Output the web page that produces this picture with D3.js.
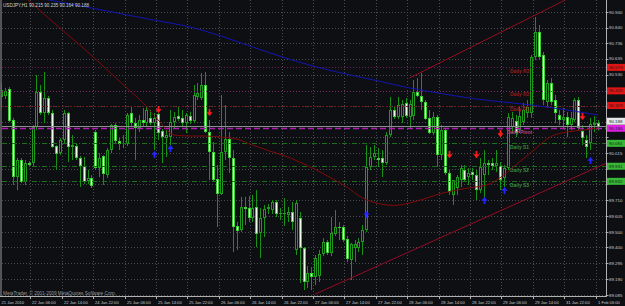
<!DOCTYPE html>
<html lang="en">

<head>
    <title>USDJPY,H1</title>
    <meta charset="UTF-8">
    <script src="https://cdn.jsdelivr.net/npm/d3@7"></script>
    <style>
        html,
        body {
            margin: 0;
            padding: 0;
            background: #0d0f12;
        }

        svg {
            display: block;
        }

        text {
            font-family: "Liberation Sans", Arial, sans-serif;
        }
    </style>
</head>

<body>
    <script>
        // chart size
        var width = 625,
            height = 306,
            plotRight = 606.5,
            plotBottom = 296.5;

        // hourly bars, 21 Jan 22:00 .. 1 Feb 06:00
        var opens = [90.385, 90.392, 90.437, 90.234, 89.860, 89.972, 89.828, 89.952, 89.952, 90.188,
            90.418, 90.280, 90.378, 90.280, 90.063, 90.017, 90.103, 90.280, 90.057, 90.063,
            89.985, 89.932, 89.834, 89.854, 90.155, 89.919, 89.998, 89.873, 90.037, 90.201,
            90.096, 90.077, 90.077, 90.280, 90.214, 90.182, 90.234, 90.214, 90.248, 90.214,
            90.274, 90.162, 90.116, 90.122, 90.221, 90.260, 90.248, 90.214, 90.260, 90.227,
            90.385, 90.378, 90.463, 90.155, 90.024, 89.847, 89.749, 90.024, 90.109, 89.985,
            89.539, 89.513, 89.664, 89.657, 89.592, 89.664, 89.493, 89.592, 89.651, 89.644,
            89.697, 89.618, 89.618, 89.611, 89.631, 89.382, 89.592, 89.395, 89.172, 89.231,
            89.205, 89.211, 89.356, 89.434, 89.362, 89.487, 89.533, 89.533, 89.454, 89.316,
            89.395, 89.395, 89.434, 89.513, 89.926, 89.991, 89.985, 89.985, 89.952, 90.135,
            90.300, 90.254, 90.254, 90.346, 90.254, 90.260, 90.418, 90.392, 90.352, 90.248,
            90.149, 90.254, 90.004, 90.168, 89.887, 89.743, 89.788, 89.841, 89.906, 89.860,
            89.893, 89.873, 89.775, 89.873, 89.952, 89.952, 89.932, 89.932, 89.854, 89.919,
            90.188, 90.227, 90.168, 90.221, 90.280, 90.280, 90.647, 90.811, 90.660, 90.352,
            90.476, 90.365, 90.267, 90.234, 90.254, 90.201, 90.234, 90.365, 90.162, 90.103,
            90.083, 90.201, 90.215
        ];
        var highs = [90.476, 90.444, 90.450, 90.248, 89.985, 89.985, 89.972, 89.965, 90.201, 90.529,
            90.463, 90.549, 90.392, 90.300, 90.070, 90.116, 90.300, 90.287, 90.135, 90.077,
            89.998, 89.991, 89.906, 89.873, 90.168, 90.017, 90.004, 90.050, 90.208, 90.214,
            90.116, 90.135, 90.280, 90.319, 90.248, 90.267, 90.313, 90.319, 90.300, 90.280,
            90.280, 90.175, 90.168, 90.300, 90.287, 90.319, 90.300, 90.280, 90.287, 90.463,
            90.476, 90.542, 90.549, 90.234, 90.090, 89.939, 90.398, 90.332, 90.155, 90.037,
            89.565, 89.730, 89.730, 89.736, 89.743, 89.775, 89.657, 89.677, 89.684, 89.710,
            89.710, 89.657, 89.723, 89.664, 89.697, 89.710, 89.631, 89.401, 89.277, 89.270,
            89.349, 89.382, 89.460, 89.447, 89.598, 89.644, 89.565, 89.546, 89.474, 89.428,
            89.447, 89.460, 89.546, 90.070, 90.057, 90.070, 90.050, 90.037, 90.155, 90.385,
            90.326, 90.385, 90.365, 90.378, 90.365, 90.496, 90.509, 90.542, 90.365, 90.300,
            90.287, 90.267, 90.201, 90.182, 89.906, 89.841, 89.873, 89.939, 89.939, 89.919,
            89.919, 89.906, 89.985, 90.037, 89.972, 89.985, 90.037, 89.959, 89.939, 90.280,
            90.287, 90.267, 90.319, 90.346, 90.365, 90.660, 90.909, 90.857, 90.680, 90.496,
            90.509, 90.398, 90.300, 90.313, 90.287, 90.287, 90.378, 90.385, 90.201, 90.135,
            90.248, 90.260, 90.235
        ];
        var lows = [90.319, 90.372, 90.221, 89.808, 89.775, 89.821, 89.808, 89.932, 89.926, 90.168,
            90.267, 90.214, 90.267, 90.050, 89.906, 90.004, 90.083, 89.959, 89.972, 89.972,
            89.795, 89.815, 89.815, 89.788, 89.906, 89.860, 89.808, 89.854, 90.017, 90.083,
            90.037, 90.050, 90.063, 90.195, 89.972, 90.155, 90.188, 90.188, 90.201, 90.037,
            90.103, 89.952, 89.991, 90.070, 90.182, 90.227, 90.195, 90.149, 90.208, 90.214,
            90.365, 90.365, 90.149, 89.841, 89.834, 89.533, 89.743, 89.972, 89.887, 89.369,
            89.382, 89.500, 89.546, 89.565, 89.565, 89.401, 89.329, 89.467, 89.618, 89.618,
            89.598, 89.579, 89.539, 89.565, 89.513, 89.349, 89.165, 89.120, 89.133, 89.120,
            89.152, 89.172, 89.342, 89.349, 89.342, 89.474, 89.447, 89.434, 89.303, 89.185,
            89.303, 89.369, 89.349, 89.500, 89.906, 89.972, 89.926, 89.860, 89.939, 90.122,
            90.241, 90.241, 90.214, 90.248, 90.175, 90.234, 90.385, 90.300, 90.234, 90.142,
            90.135, 89.926, 89.972, 89.873, 89.743, 89.677, 89.743, 89.795, 89.828, 89.808,
            89.841, 89.710, 89.755, 89.723, 89.873, 89.906, 89.893, 89.775, 89.795, 89.906,
            90.149, 90.122, 90.149, 90.201, 90.248, 90.248, 90.627, 90.627, 90.332, 90.313,
            90.332, 90.214, 90.201, 90.182, 90.122, 90.168, 90.221, 90.168, 90.070, 89.985,
            90.037, 90.155, 90.164
        ];
        var closes = [90.431, 90.424, 90.227, 89.860, 89.972, 89.828, 89.952, 89.939, 90.188, 90.418,
            90.280, 90.378, 90.280, 90.057, 90.011, 90.103, 90.280, 90.057, 90.070, 89.985,
            89.932, 89.828, 89.854, 89.802, 89.919, 89.985, 89.880, 90.037, 90.201, 90.096,
            90.077, 90.083, 90.267, 90.214, 90.182, 90.234, 90.214, 90.300, 90.214, 90.248,
            90.149, 90.122, 90.135, 90.221, 90.254, 90.241, 90.214, 90.267, 90.227, 90.398,
            90.411, 90.463, 90.155, 90.024, 89.841, 89.749, 90.024, 90.109, 89.985, 89.533,
            89.506, 89.664, 89.651, 89.592, 89.657, 89.487, 89.592, 89.651, 89.664, 89.697,
            89.618, 89.625, 89.625, 89.631, 89.565, 89.690, 89.395, 89.172, 89.231, 89.205,
            89.329, 89.356, 89.434, 89.362, 89.493, 89.533, 89.526, 89.447, 89.323, 89.421,
            89.421, 89.434, 89.513, 89.926, 89.991, 90.017, 89.972, 89.952, 90.135, 90.300,
            90.254, 90.332, 90.339, 90.260, 90.339, 90.418, 90.392, 90.352, 90.241, 90.149,
            90.254, 90.004, 90.168, 89.887, 89.762, 89.841, 89.860, 89.919, 89.841, 89.887,
            89.873, 89.775, 89.926, 89.952, 89.939, 89.932, 89.952, 89.841, 89.919, 90.254,
            90.248, 90.149, 90.260, 90.300, 90.319, 90.647, 90.811, 90.647, 90.365, 90.476,
            90.352, 90.280, 90.234, 90.254, 90.201, 90.248, 90.365, 90.182, 90.116, 90.057,
            90.208, 90.214, 90.188
        ];

        // moving averages, one value every maBlueStep / maRedStep bars
        var maBlueStep = 8;
        var maBlue = [91.082, 91.042, 91.002, 90.963, 90.923, 90.884, 90.844, 90.784, 90.713, 90.644,
            90.584, 90.534, 90.490, 90.444, 90.408, 90.375, 90.352, 90.329, 90.300, 90.267
        ];
        var maRedStep = 4;
        var maRed = [91.171, 91.086, 90.994, 90.903, 90.814, 90.726, 90.634, 90.539, 90.444, 90.349,
            90.234, 90.136, 90.129, 90.129, 90.123, 90.109, 90.070, 90.034, 90.001, 89.959,
            89.910, 89.854, 89.795, 89.723, 89.687, 89.674, 89.690, 89.719, 89.752, 89.775,
            89.792, 89.811, 89.873, 89.959, 90.044, 90.126, 90.155, 90.168, 90.182
        ];

        // trend channel anchors [bar, price]
        var channelLow = [[80, 89.093], [152, 89.927]];
        var channelHigh = [[104, 90.509], [136, 90.922]];

        // fractal arrows [bar, price]
        var arrowsDown = [[40, 90.300], [53, 90.280], [114, 90.004], [121, 90.004], [127, 90.142], [148, 90.254]];
        var arrowsUp = [[39, 90.011], [43, 90.050], [93, 89.618], [123, 89.710], [128, 89.775], [150, 89.972]];

        // daily pivot levels
        var levelNames = ['Daily R3', 'Daily R2', 'Daily R1', 'Daily Pivot', 'Daily S1', 'Daily S2', 'Daily S3'];
        var levelValues = [90.579, 90.425, 90.329, 90.180, 90.081, 89.931, 89.832];

        // axis labels
        var timeLabels = ['21 Jan 2010', '22 Jan 06:00', '22 Jan 14:00', '24 Jan 22:00', '25 Jan 06:00',
            '25 Jan 14:00', '25 Jan 22:00', '26 Jan 06:00', '26 Jan 14:00', '26 Jan 22:00',
            '27 Jan 06:00', '27 Jan 14:00', '27 Jan 22:00', '28 Jan 06:00', '28 Jan 14:00',
            '28 Jan 22:00', '29 Jan 06:00', '29 Jan 14:00', '31 Jan 22:00', '1 Feb 06:00'
        ];
        var timeStep = 8;
        var priceLabels = ['90.940', '90.840', '90.736', '90.635', '90.530', '90.427', '90.325', '90.220',
            '90.120', '90.015', '89.910', '89.815', '89.710', '89.605', '89.500', '89.400',
            '89.295', '89.190', '89.085'
        ];

        // styles
        var levelColor = ['#6f1d5d', '#7e2a6c', '#701818', '#b01cb0', '#1d6e1d', '#1d6e1d', '#1d6e1d'];
        var levelDash = ['1,2', '1,2', '2,2', '6,3', '5,2,1,2', '5,2,1,2', '5,2,1,2'];
        var levelWidth = [1, 1, 1, 1.6, 1, 1, 1];
        var labelColor = ['#9b1b1b', '#9b1b1b', '#9b1b1b', '#b04a8a', '#3a8a3a', '#3a8a3a', '#3a8a3a'];
        var boxColor = ['#e01414', '#e01414', '#e01414', '#e020e0', '#36b836', '#36b836', '#36b836'];

        var svg = d3.select('body').append('svg')
            .attr('width', width)
            .attr('height', height);

        svg.append('rect')
            .attr('width', width)
            .attr('height', height)
            .attr('fill', '#0d0f12');

        svg.append('defs').append('clipPath')
            .attr('id', 'plot')
            .append('rect')
            .attr('x', 1.5)
            .attr('y', 0)
            .attr('width', plotRight - 1.5)
            .attr('height', plotBottom);

        // scales
        var x = d3.scaleLinear()
            .domain([0, 152])
            .range([1.15, 598]);
        var y = d3.scaleLinear()
            .domain([89.085, 90.940])
            .range([295.3, 12.3]);

        function gridX(i) {
            return Math.round(x(i * timeStep) - 2.3) + 0.5;
        }

        //grid
        var grid = svg.append('g')
            .attr('stroke', '#4a4c51')
            .attr('stroke-dasharray', '1,2');
        grid.selectAll('line.h')
            .data(priceLabels)
            .enter()
            .append('line')
            .attr('class', 'h')
            .attr('x1', 2)
            .attr('x2', plotRight)
            .attr('y1', function(d) { return Math.round(y(+d)) + 0.5; })
            .attr('y2', function(d) { return Math.round(y(+d)) + 0.5; });
        grid.selectAll('line.v')
            .data(timeLabels)
            .enter()
            .append('line')
            .attr('class', 'v')
            .attr('x1', function(d, i) { return gridX(i); })
            .attr('x2', function(d, i) { return gridX(i); })
            .attr('y1', 0)
            .attr('y2', plotBottom);

        //candles
        var bars = d3.range(opens.length);
        var cg = svg.append('g').attr('clip-path', 'url(#plot)');
        cg.selectAll('rect.wick')
            .data(bars)
            .enter()
            .append('rect')
            .attr('class', 'wick')
            .attr('x', function(i) { return Math.round(x(i)); })
            .attr('y', function(i) { return y(highs[i]); })
            .attr('width', 1)
            .attr('height', function(i) { return y(lows[i]) - y(highs[i]); })
            .attr('fill', '#179217');

        function bodyTop(i) {
            return Math.round(Math.min(y(opens[i]), y(closes[i])));
        }

        function bodyH(i) {
            return Math.max(1, Math.round(Math.abs(y(opens[i]) - y(closes[i]))));
        }
        cg.selectAll('rect.body')
            .data(bars)
            .enter()
            .append('rect')
            .attr('class', 'body')
            .attr('x', function(i) { return Math.round(x(i)) - 1; })
            .attr('y', bodyTop)
            .attr('width', 3)
            .attr('height', bodyH)
            .attr('fill', function(i) { return opens[i] > closes[i] ? '#3ccf36' : '#1f9a1f'; });
        cg.selectAll('rect.core')
            .data(bars.filter(function(i) { return bodyH(i) > 2; }))
            .enter()
            .append('rect')
            .attr('class', 'core')
            .attr('x', function(i) { return Math.round(x(i)); })
            .attr('y', function(i) { return bodyTop(i) + 1; })
            .attr('width', 1)
            .attr('height', function(i) { return bodyH(i) - 2; })
            .attr('fill', function(i) { return opens[i] > closes[i] ? '#eaffe6' : '#0d0f12'; });

        //pivot lines
        var lines = svg.append('g').attr('clip-path', 'url(#plot)');
        lines.selectAll('line.level')
            .data(levelValues)
            .enter()
            .append('line')
            .attr('class', 'level')
            .attr('x1', 2)
            .attr('x2', plotRight)
            .attr('y1', function(d) { return Math.round(y(d)) + 0.5; })
            .attr('y2', function(d) { return Math.round(y(d)) + 0.5; })
            .attr('stroke', function(d, i) { return levelColor[i]; })
            .attr('stroke-width', function(d, i) { return levelWidth[i]; })
            .attr('stroke-dasharray', function(d, i) { return levelDash[i]; });

        // bid line
        var last = closes[closes.length - 1];
        lines.append('line')
            .attr('x1', 2)
            .attr('x2', plotRight)
            .attr('y1', Math.round(y(last)) - 0.5)
            .attr('y2', Math.round(y(last)) - 0.5)
            .attr('stroke', '#8a8c90');

        lines.selectAll('text.level')
            .data(levelNames)
            .enter()
            .append('text')
            .attr('class', 'level')
            .attr('x', function(d) { return d == 'Daily Pivot' ? 507 : 510; })
            .attr('y', function(d, i) { return y(levelValues[i]) + 5.3; })
            .attr('font-size', 4.9)
            .attr('font-weight', 'bold')
            .attr('fill', function(d, i) { return labelColor[i]; })
            .text(function(d) { return d; });

        //moving averages
        var line = d3.line()
            .x(function(d) { return x(d[0]); })
            .y(function(d) { return y(d[1]); })
            .curve(d3.curveMonotoneX);
        lines.append('path')
            .attr('d', line(maBlue.map(function(v, i) { return [i * maBlueStep, v]; })))
            .attr('fill', 'none')
            .attr('stroke', '#1414b4');
        lines.append('path')
            .attr('d', line(maRed.map(function(v, i) { return [i * maRedStep, v]; })))
            .attr('fill', 'none')
            .attr('stroke', '#820a0a');

        // channel rays
        var kEnd = x.invert(plotRight + 2);
        [channelLow, channelHigh].forEach(function(c) {
            var slope = (c[1][1] - c[0][1]) / (c[1][0] - c[0][0]);
            lines.append('line')
                .attr('x1', x(c[0][0]))
                .attr('y1', y(c[0][1]))
                .attr('x2', x(kEnd))
                .attr('y2', y(c[0][1] + slope * (kEnd - c[0][0])))
                .attr('stroke', '#960c28');
        });

        //arrows
        lines.selectAll('path.dn')
            .data(arrowsDown)
            .enter()
            .append('path')
            .attr('class', 'dn')
            .attr('d', function(d) {
                var cx = Math.round(x(d[0])) + 0.5,
                    cy = y(d[1]);
                return 'M' + (cx - 0.9) + ',' + (cy - 4) + 'h1.8v3.2h2.2l-3.1,3.9l-3.1,-3.9h2.2z';
            })
            .attr('fill', '#ff1c1c');
        lines.selectAll('path.up')
            .data(arrowsUp)
            .enter()
            .append('path')
            .attr('class', 'up')
            .attr('d', function(d) {
                var cx = Math.round(x(d[0])) + 0.5,
                    cy = y(d[1]);
                return 'M' + (cx - 0.9) + ',' + (cy + 4) + 'h1.8v-3.2h2.2l-3.1,-3.9l-3.1,3.9h2.2z';
            })
            .attr('fill', '#2424ff');

        //frame
        svg.append('line').attr('x1', 1).attr('x2', 1).attr('y1', 0).attr('y2', plotBottom).attr('stroke', '#9a9a9a');
        svg.append('line').attr('x1', plotRight).attr('x2', plotRight).attr('y1', 0).attr('y2', plotBottom + 0.5).attr('stroke', '#b0b0b0');
        svg.append('line').attr('x1', 0).attr('x2', plotRight).attr('y1', plotBottom).attr('y2', plotBottom).attr('stroke', '#b0b0b0');

        //time axis
        var tg = svg.append('g');
        tg.selectAll('line')
            .data(timeLabels)
            .enter()
            .append('line')
            .attr('x1', function(d, i) { return gridX(i); })
            .attr('x2', function(d, i) { return gridX(i); })
            .attr('y1', plotBottom)
            .attr('y2', plotBottom + 2.5)
            .attr('stroke', '#b0b0b0');
        tg.selectAll('text')
            .data(timeLabels)
            .enter()
            .append('text')
            .attr('x', function(d, i) { return Math.max(1.5, gridX(i) + 1.5); })
            .attr('y', 303.8)
            .attr('font-size', 4.1)
            .attr('fill', '#c8c8c8')
            .text(function(d) { return d; });

        // level tags on the price axis, the bid tag sits just above the pivot tag
        var tags = levelValues.map(function(v, i) { return { v: v, c: boxColor[i], cy: y(v) }; });
        tags.push({ v: last, c: '#e6e6e6', cy: y(levelValues[3]) - 7 });

        //price axis, labels under a tag are hidden as in the terminal
        var pg = svg.append('g');
        var shown = priceLabels.filter(function(d) {
            return tags.every(function(t) { return Math.abs(t.cy - y(+d)) > 6; });
        });
        pg.selectAll('line')
            .data(priceLabels)
            .enter()
            .append('line')
            .attr('x1', plotRight)
            .attr('x2', plotRight + 2)
            .attr('y1', function(d) { return Math.round(y(+d)) + 0.5; })
            .attr('y2', function(d) { return Math.round(y(+d)) + 0.5; })
            .attr('stroke', '#b0b0b0');
        pg.selectAll('text')
            .data(shown)
            .enter()
            .append('text')
            .attr('x', 609)
            .attr('y', function(d) { return y(+d) + 1.6; })
            .attr('font-size', 4.4)
            .attr('fill', '#c8c8c8')
            .text(function(d) { return d; });

        var tg2 = svg.selectAll('g.tag')
            .data(tags)
            .enter()
            .append('g')
            .attr('class', 'tag')
            .attr('transform', function(d) { return 'translate(607,' + d.cy + ')'; });
        tg2.append('rect')
            .attr('x', 0)
            .attr('y', -3.5)
            .attr('width', 18)
            .attr('height', 7)
            .attr('fill', function(d) { return d.c; });
        tg2.append('text')
            .attr('x', 2)
            .attr('y', 1.6)
            .attr('font-size', 4.4)
            .attr('fill', '#1a1a1a')
            .text(function(d) { return d.v.toFixed(3); });

        //titles
        svg.append('text')
            .attr('x', 3)
            .attr('y', 7.2)
            .attr('font-size', 4.6)
            .attr('fill', '#d0d0d0')
            .text('USDJPY,H1  ' + [opens, highs, lows, closes].map(function(a) { return a[a.length - 1].toFixed(3); }).join(' '));
        svg.append('text')
            .attr('x', 3)
            .attr('y', 294.8)
            .attr('font-size', 4.7)
            .attr('fill', '#9a9a9a')
            .text('MetaTrader, \u00a9 2001-2009 MetaQuotes Software Corp.');
    </script>
</body>

</html>
